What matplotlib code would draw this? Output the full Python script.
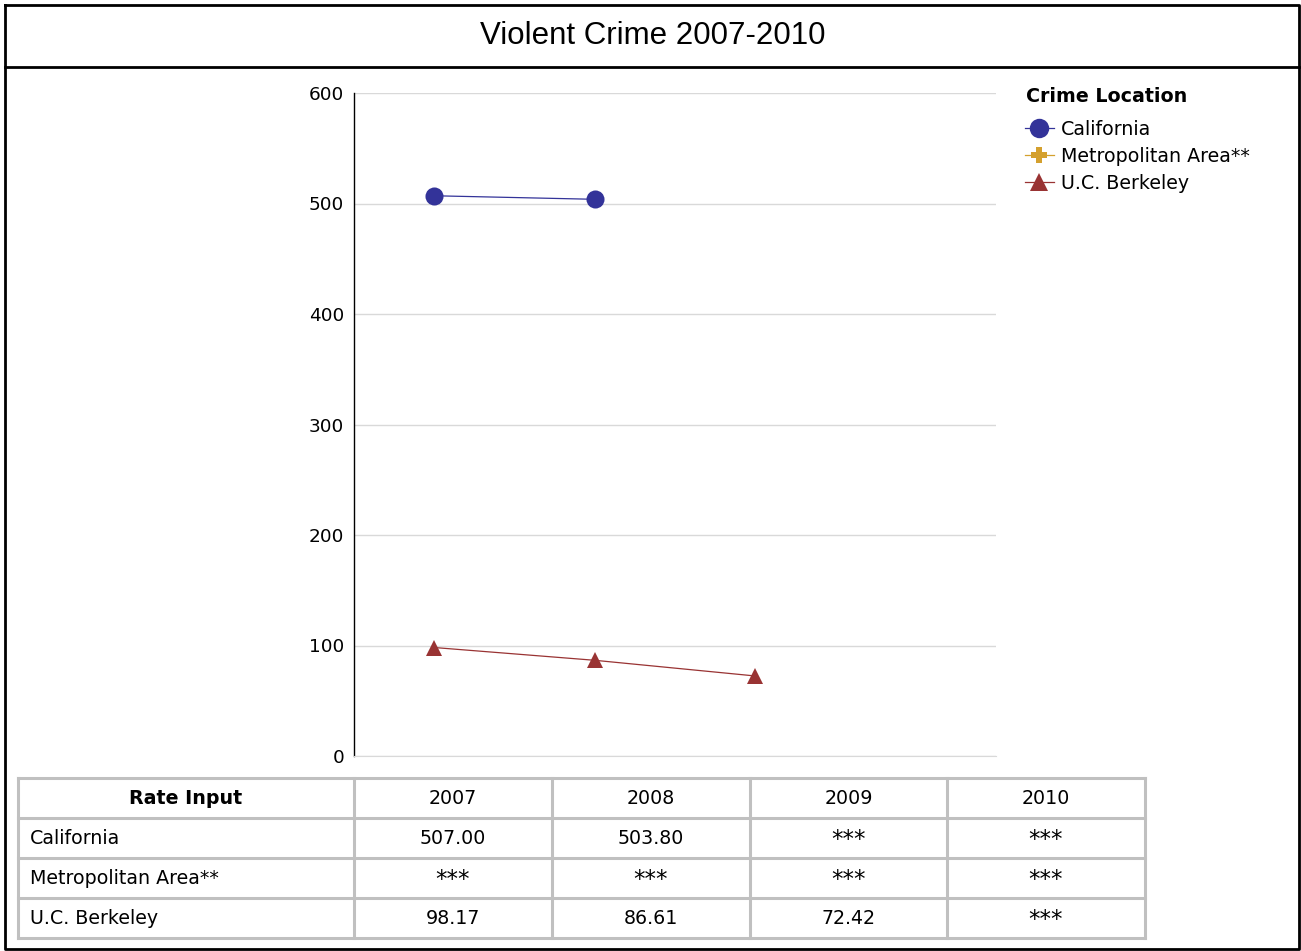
import numpy as np
import matplotlib
matplotlib.use("Agg")
import matplotlib.pyplot as plt
from matplotlib.lines import Line2D

# ---- data ----
years = ["2007", "2008", "2009", "2010"]
locations = ["California", "Metropolitan Area**", "U.C. Berkeley"]
california = [507.00, 503.80, np.nan, np.nan]
metro = [np.nan, np.nan, np.nan, np.nan]
berkeley = [98.17, 86.61, 72.42, np.nan]
series = [california, metro, berkeley]

colors = ["#333399", "#D4A02E", "#993333"]
markers = ["o", "P", "^"]
msizes = [13, 11, 12]

W, H = 1301, 951
FS = 13.7
plt.rcParams["font.family"] = "DejaVu Sans"
fig = plt.figure(figsize=(W / 100, H / 100), dpi=100)


def px(x0, y0, x1, y1):
    # pixel box -> figure fraction [left, bottom, width, height]
    return [x0 / W, 1 - y1 / H, (x1 - x0) / W, (y1 - y0) / H]


# background / frame axes in pixel coords
bg = fig.add_axes([0, 0, 1, 1])
bg.set_xlim(0, W)
bg.set_ylim(H, 0)
bg.axis("off")
bg.plot([5, 1299, 1299, 5, 5], [5, 5, 949, 949, 5], color="black", lw=2)
bg.plot([5, 1299], [67, 67], color="black", lw=2)
bg.text(653, 36, "Violent Crime 2007-2010", ha="center", va="center",
        fontsize=22.5, family="Liberation Sans")

# ---- chart ----
ax = fig.add_axes(px(354, 93, 996, 756))
x = np.arange(len(years))
for vals, c, m, ms in zip(series, colors, markers, msizes):
    ax.plot(x, vals, color=c, lw=0.9, marker=m, markersize=ms,
            markeredgewidth=0)
ax.set_xlim(-0.5, len(years) - 0.5)
ax.set_ylim(0, 600)
ax.set_yticks(range(0, 601, 100))
ax.set_xticks([])
ax.yaxis.grid(True, color="#d9d9d9", lw=1)
ax.set_axisbelow(True)
for s in ("top", "right"):
    ax.spines[s].set_visible(False)
ax.spines["bottom"].set_color("#d9d9d9")
ax.spines["left"].set_color("black")
ax.spines["left"].set_linewidth(1)
ax.tick_params(axis="y", length=0, pad=7, labelsize=13.3)

# ---- legend ----
bg.text(1026, 97, "Crime Location", ha="left", va="center",
        fontsize=FS, fontweight="bold")
handles = [Line2D([0], [0], color=c, lw=0.9, marker=m, markersize=ms + 1,
                  markeredgewidth=0)
           for c, m, ms in zip(colors, markers, msizes)]
leg = fig.legend(handles, locations,
                 loc="upper left", bbox_to_anchor=(1025 / W, 1 - 120 / H),
                 frameon=False, fontsize=FS, handlelength=1.5,
                 handletextpad=0.4, labelspacing=0.42, borderpad=0,
                 borderaxespad=0)

# ---- table ----
col_x = [18, 354, 552, 750, 947, 1145]
row_y = [778, 818, 858, 898, 938]
grid_c = "#c0c0c0"
for cx in col_x:
    bg.plot([cx, cx], [row_y[0], row_y[-1]], color=grid_c, lw=2.2)
for ry in row_y:
    bg.plot([col_x[0], col_x[-1]], [ry, ry], color=grid_c, lw=2.2)

bg.text((col_x[0] + col_x[1]) / 2, (row_y[0] + row_y[1]) / 2, "Rate Input",
        ha="center", va="center", fontsize=FS, fontweight="bold")
for j, yr in enumerate(years):
    bg.text((col_x[j + 1] + col_x[j + 2]) / 2, (row_y[0] + row_y[1]) / 2, yr,
            ha="center", va="center", fontsize=FS)
for i, (name, vals) in enumerate(zip(locations, series)):
    yc = (row_y[i + 1] + row_y[i + 2]) / 2
    bg.text(col_x[0] + 12, yc, name, ha="left", va="center", fontsize=FS)
    for j, v in enumerate(vals):
        xc = (col_x[j + 1] + col_x[j + 2]) / 2
        if np.isnan(v):
            bg.text(xc, yc + 2, "***", ha="center", va="center", fontsize=16.5)
        else:
            bg.text(xc, yc, f"{v:.2f}", ha="center", va="center", fontsize=FS)

fig.savefig("out.png", dpi=100)
